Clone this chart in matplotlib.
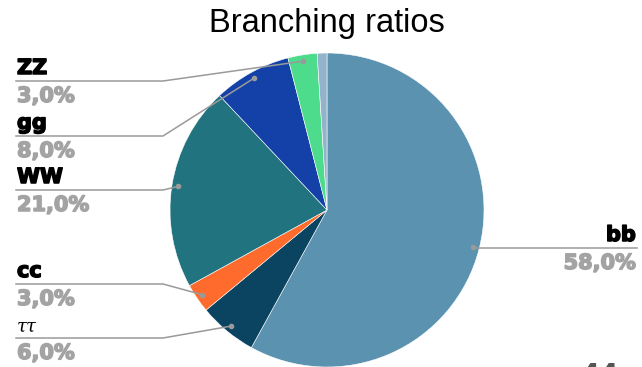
import numpy as np
import matplotlib.pyplot as plt
import matplotlib.patheffects as pe

# Higgs branching ratios, clockwise from 12 o'clock
channels = ['bb', 'ττ', 'cc', 'WW', 'gg', 'ZZ', '']
shares = [58.0, 6.0, 3.0, 21.0, 8.0, 3.0, 1.0]
colors = ['#5A92B0', '#0B4461', '#FF6B2C', '#21737F', '#1341A8', '#4DDB8C', '#93B3CB']
# vertical position of each label's leader line (pixels from top)
label_rows = [248, 338, 284, 190, 136, 81, None]

W, H = 642, 367
fig = plt.figure(figsize=(W / 100, H / 100), dpi=100)
ax = fig.add_axes([0, 0, 1, 1])

cx, cy, r = 327, H - 210, 157
wedges, _ = ax.pie(shares, colors=colors, startangle=90, counterclock=False,
                   center=(cx, cy), radius=r, frame=True,
                   wedgeprops=dict(edgecolor='white', linewidth=0.4))
ax.set_xlim(0, W)
ax.set_ylim(0, H)
ax.set_aspect('equal')
ax.axis('off')

ax.text(327, H - 32, 'Branching ratios', ha='center', va='baseline',
        fontsize=23.5, family='Liberation Sans', color='black')

line_col = '#9A9A9A'
pct_col = '#A3A3A3'


def heavy(c):
    # thicken the bold glyphs a little
    return [pe.withStroke(linewidth=1.1, foreground=c)]


for w, name, val, row in zip(wedges, channels, shares, label_rows):
    if row is None:
        continue
    mid = np.deg2rad((w.theta1 + w.theta2) / 2)
    px, py = cx + 0.96 * r * np.cos(mid), cy + 0.96 * r * np.sin(mid)
    ly = H - row
    ax.plot(px, py, 'o', ms=3, color=line_col, zorder=5)
    if px > cx:
        ax.plot([px, 637], [ly, ly], color=line_col, lw=1.1)
        tx, ha = 636, 'right'
    else:
        ax.plot([px, 163, 16], [py, ly, ly], color=line_col, lw=1.1)
        tx, ha = 17, 'left'
    if name == 'ττ':
        ax.text(tx, ly + 6, name, ha=ha, va='baseline', fontsize=13,
                family='DejaVu Serif', style='italic', color='black')
    else:
        ax.text(tx, ly + 7, name, ha=ha, va='baseline', fontsize=15,
                family='DejaVu Sans', weight='bold', color='black',
                path_effects=heavy('black'))
    ax.text(tx, ly - 21, f'{val:.1f}%'.replace('.', ','), ha=ha, va='baseline',
            fontsize=15, family='DejaVu Sans', weight='bold', color=pct_col,
            path_effects=heavy(pct_col))

# page number peeking in at the lower edge
ax.text(600, H - 362, '44', ha='center', va='top', fontsize=20,
        family='DejaVu Sans', weight='bold', color='#555555')

fig.savefig('out.png', dpi=100)
